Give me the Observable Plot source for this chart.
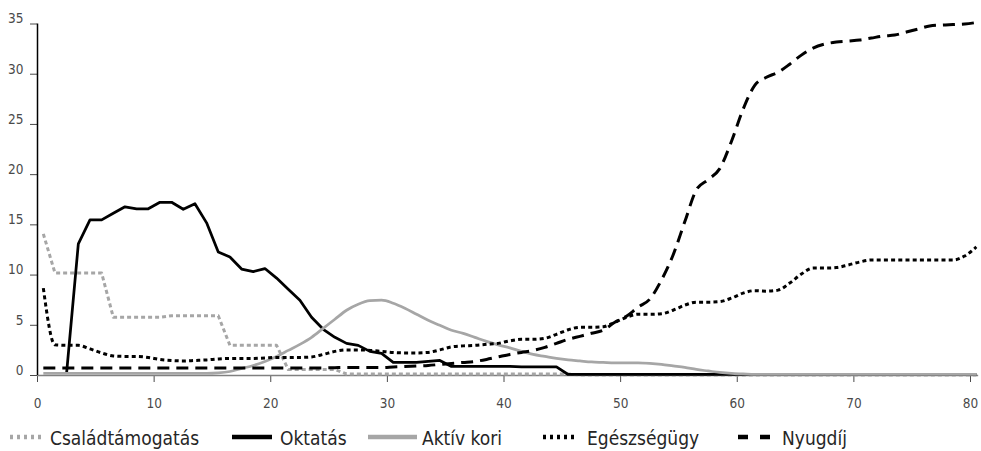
<!DOCTYPE html>
<html>
<head>
<meta charset="utf-8">
<script src="https://cdn.jsdelivr.net/npm/d3@7"></script>
<script src="https://cdn.jsdelivr.net/npm/@observablehq/plot@0.6"></script>
<style>
  body { margin: 0; background: #fff; }
  #chart { width: 981px; height: 451px; overflow: hidden; }
  svg { display: block; }
</style>
</head>
<body>
<div id="chart"></div>
<script>
// ---- data (x = age bin midpoints) ----
const ages = d3.range(81).map(i => i + 0.5);
const xTicks = [0, 10, 20, 30, 40, 50, 60, 70, 80];
const yTicks = [0, 5, 10, 15, 20, 25, 30, 35];
const seriesNames = ["Családtámogatás", "Oktatás", "Aktív kori", "Egészségügy", "Nyugdíj"];

const csaladtamogatas = [
  14.1, 10.2, 10.2, 10.2, 10.2, 10.2, 5.8, 5.8, 5.8, 5.8,
  5.8, 5.95, 5.95, 5.95, 5.95, 5.95, 3.0, 3.0, 3.0, 3.0,
  3.0, 0.6, 0.6, 0.6, 0.6, 0.6, 0.15, 0.15, 0.15, 0.15,
  0.15, 0.15, 0.15, 0.15, 0.15, 0.15, 0.15, 0.15, 0.15, 0.15,
  0.15, 0.15, 0.15, 0.15, 0.15, 0.15, 0.05, 0.05, 0.05, 0.05,
  0.05, 0.05, 0.05, 0.05, 0.05, 0.05, 0.05, 0.05, 0.05, 0.05,
  0.05, 0.05, 0.05, 0.05, 0.05, 0.05, 0.05, 0.05, 0.05, 0.05,
  0.05, 0.05, 0.05, 0.05, 0.05, 0.05, 0.05, 0.05, 0.05, 0.05,
  0.05
];
const oktatas = [
  null, null, 0.3, 13.1, 15.5, 15.5, 16.15, 16.8, 16.6, 16.6,
  17.25, 17.25, 16.55, 17.1, 15.2, 12.3, 11.8, 10.6, 10.35, 10.65,
  9.7, 8.6, 7.5, 5.8, 4.6, 3.8, 3.2, 3.0, 2.4, 2.2,
  1.3, 1.3, 1.3, 1.4, 1.5, 0.9, 0.9, 0.9, 0.9, 0.9,
  0.9, 0.85, 0.85, 0.85, 0.85, 0.1, 0.1, 0.1, 0.1, 0.1,
  0.1, 0.1, 0.1, 0.1, 0.1, 0.1, 0.1, 0.1, 0.1, 0.1,
  0.1, 0.1, 0.1, 0.1, 0.1, 0.1, 0.1, 0.1, 0.1, 0.1,
  0.1, 0.1, 0.1, 0.1, 0.1, 0.1, 0.1, 0.1, 0.1, 0.1,
  0.1
];
const aktivKori = [
  0.2, 0.2, 0.2, 0.2, 0.2, 0.2, 0.2, 0.2, 0.2, 0.2,
  0.2, 0.2, 0.2, 0.2, 0.2, 0.25, 0.4, 0.7, 1.0, 1.4,
  1.9, 2.5, 3.1, 3.8, 4.7, 5.6, 6.5, 7.1, 7.45, 7.5,
  7.2, 6.7, 6.1, 5.5, 5.0, 4.5, 4.2, 3.8, 3.4, 3.05,
  2.75, 2.4, 2.1, 1.9, 1.7, 1.55, 1.45, 1.35, 1.3, 1.25,
  1.25, 1.25, 1.2, 1.1, 0.95, 0.8, 0.6, 0.45, 0.3, 0.2,
  0.15, 0.1, 0.1, 0.1, 0.1, 0.1, 0.1, 0.1, 0.1, 0.1,
  0.1, 0.1, 0.1, 0.1, 0.1, 0.1, 0.1, 0.1, 0.1, 0.1,
  0.1
];
const egeszsegugy = [
  8.7, 3.05, 3.0, 3.0, 2.65, 2.25, 1.95, 1.9, 1.9, 1.8,
  1.6, 1.5, 1.45, 1.5, 1.55, 1.65, 1.7, 1.7, 1.7, 1.75,
  1.8, 1.8, 1.8, 1.85, 2.1, 2.4, 2.55, 2.55, 2.5, 2.4,
  2.3, 2.25, 2.25, 2.3, 2.55, 2.85, 2.95, 3.0, 3.1, 3.2,
  3.45, 3.6, 3.6, 3.7, 4.1, 4.55, 4.8, 4.8, 4.85, 5.3,
  5.8, 6.1, 6.1, 6.15, 6.5, 7.0, 7.3, 7.3, 7.35, 7.7,
  8.2, 8.45, 8.4, 8.5, 9.2, 10.1, 10.7, 10.7, 10.75, 11.0,
  11.3, 11.5, 11.5, 11.5, 11.5, 11.5, 11.5, 11.5, 11.5, 11.9,
  12.8
];
const nyugdij = [
  0.75, 0.75, 0.75, 0.75, 0.75, 0.75, 0.75, 0.75, 0.75, 0.75,
  0.75, 0.75, 0.75, 0.75, 0.75, 0.75, 0.75, 0.75, 0.75, 0.75,
  0.75, 0.75, 0.75, 0.75, 0.75, 0.78, 0.8, 0.8, 0.8, 0.8,
  0.85, 0.9, 0.95, 1.0, 1.1, 1.2, 1.3, 1.4, 1.6, 1.85,
  2.1, 2.3, 2.5, 2.8, 3.2, 3.6, 3.9, 4.2, 4.5, 5.3,
  5.9, 6.8, 7.6, 9.5, 12.0, 15.3, 18.5, 19.5, 20.6, 23.3,
  26.5, 28.9, 29.7, 30.2, 31.0, 31.9, 32.6, 33.0, 33.2, 33.3,
  33.4, 33.6, 33.8, 33.9, 34.2, 34.5, 34.8, 34.9, 34.95, 35.0,
  35.15
];

// ---- styles ----
const FONT = '"Liberation Sans Narrow","DejaVu Sans Condensed",sans-serif';
const GRAY = "#a6a6a6";
const styles = [
  {name: seriesNames[0], values: csaladtamogatas, stroke: GRAY, width: 3, dash: "4,3", curve: "linear"},
  {name: seriesNames[1], values: oktatas, stroke: "#000", width: 2.75, dash: null, curve: "linear"},
  {name: seriesNames[2], values: aktivKori, stroke: GRAY, width: 2.75, dash: null, curve: "monotone-x"},
  {name: seriesNames[3], values: egeszsegugy, stroke: "#000", width: 3, dash: "4,3.2", curve: "monotone-x"},
  {name: seriesNames[4], values: nyugdij, stroke: "#000", width: 3, dash: "12,7", curve: "monotone-x"}
];

const lineMarks = styles.map(s => {
  const rows = ages.map((x, i) => ({x, y: s.values[i]})).filter(d => d.y != null);
  const opts = {
    x: "x", y: "y", stroke: s.stroke, strokeWidth: s.width, curve: s.curve,
    strokeLinecap: "butt", strokeLinejoin: "round"
  };
  if (s.dash) opts.strokeDasharray = s.dash;
  return Plot.line(rows, opts);
});

const chart = Plot.plot({
  width: 981,
  height: 415,
  marginLeft: 37,
  marginRight: 11,
  marginTop: 23.5,
  marginBottom: 40,
  style: {fontFamily: FONT, fontSize: "13.5px", color: "#4a4a4a", background: "#fff"},
  x: {domain: [0, 80], ticks: xTicks, tickSize: 7, tickPadding: 16, label: null, tickFormat: d => String(d)},
  y: {domain: [0, 35], ticks: yTicks, tickSize: 7, tickPadding: 7, label: null, tickFormat: d => String(d)},
  marks: [
    Plot.ruleY([0], {x1: 0, x2: 80.7, stroke: "#808080", strokeWidth: 1.5}),
    Plot.ruleX([0], {y1: 0, y2: 35, stroke: "#000", strokeWidth: 1.5}),
    ...lineMarks
  ]
});
document.getElementById("chart").appendChild(chart);

// nudge y tick labels upward, as in the reference
d3.select(chart).selectAll('g[aria-label^="y-axis"] text').each(function() {
  const t = this.getAttribute("transform");
  this.setAttribute("transform", (t ? t + " " : "") + "translate(0,-5)");
});
d3.select(chart).selectAll('g[aria-label^="x-axis"] line, g[aria-label^="y-axis"] line')
  .attr("stroke", "#333");

// ---- legend below the plot ----
const legendItems = [
  {s: styles[0], x0: 10, x1: 45, tx: 50, dash: "3,4"},
  {s: styles[1], x0: 232, x1: 272, tx: 280, dash: null},
  {s: styles[2], x0: 368, x1: 417, tx: 422, dash: null},
  {s: styles[3], x0: 543, x1: 578, tx: 587, dash: "3,4"},
  {s: styles[4], x0: 738, x1: 770, tx: 782, dash: "10,12"}
];
const leg = d3.create("svg").attr("width", 981).attr("height", 36)
  .style("font-family", FONT);
for (const it of legendItems) {
  const ln = leg.append("line")
    .attr("x1", it.x0).attr("x2", it.x1).attr("y1", 22).attr("y2", 22)
    .attr("stroke", it.s.stroke).attr("stroke-width", 4.5);
  if (it.dash) ln.attr("stroke-dasharray", it.dash);
  leg.append("text")
    .attr("x", it.tx).attr("y", 30)
    .attr("font-size", 19).attr("fill", "#262626")
    .text(it.s.name);
}
document.getElementById("chart").appendChild(leg.node());
</script>
</body>
</html>
